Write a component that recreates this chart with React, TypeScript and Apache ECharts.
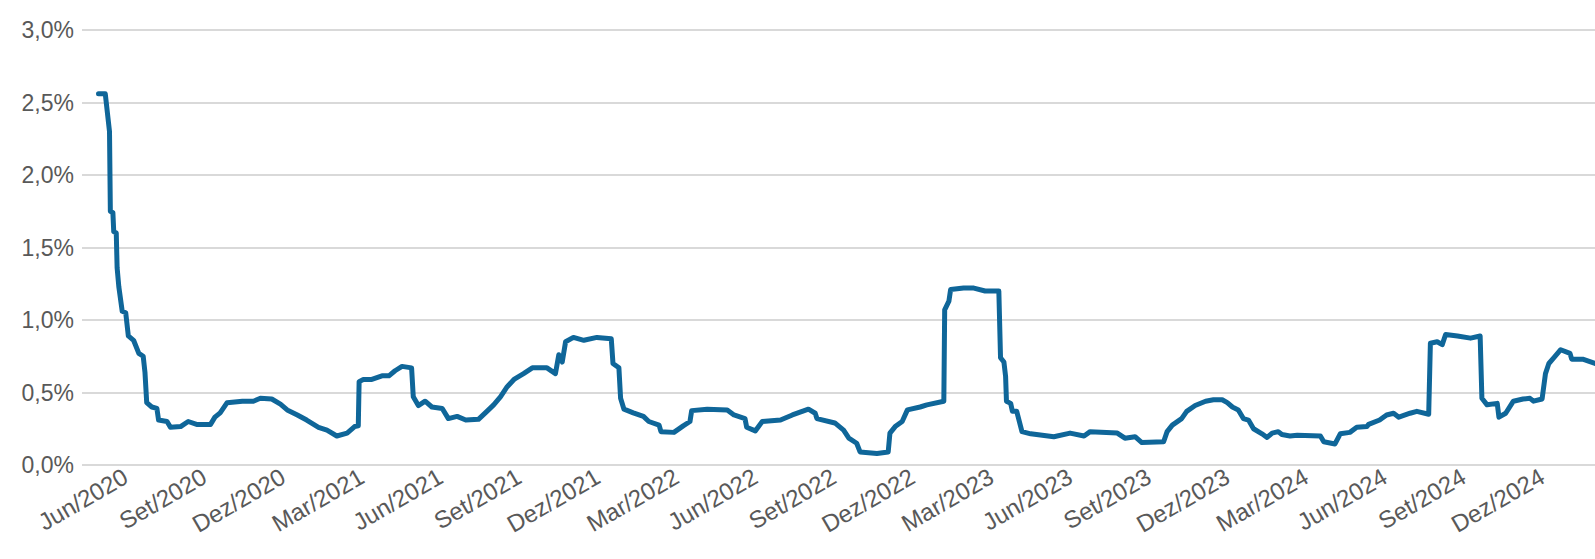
import React, { useEffect, useRef } from "react";
import * as echarts from "echarts";

// Observation dates (YYYY-MM-DD) and rates in %
const dates: string[] = [
  "2020-05-05","2020-05-13","2020-05-18","2020-05-19","2020-05-22","2020-05-23","2020-05-26","2020-05-27","2020-05-29",
  "2020-06-02","2020-06-06","2020-06-09","2020-06-15","2020-06-21","2020-06-26","2020-06-28","2020-06-30",
  "2020-07-06","2020-07-12","2020-07-14","2020-07-24","2020-07-28","2020-08-09","2020-08-18","2020-08-28",
  "2020-09-13","2020-09-18","2020-09-24","2020-10-02","2020-10-20","2020-11-02","2020-11-10","2020-11-23",
  "2020-12-03","2020-12-11","2020-12-23","2021-01-03","2021-01-17","2021-01-27","2021-02-07","2021-02-18","2021-02-26",
  "2021-03-02","2021-03-03","2021-03-08","2021-03-18","2021-03-30","2021-04-07","2021-04-14","2021-04-22",
  "2021-05-03","2021-05-05","2021-05-11","2021-05-19","2021-05-27","2021-06-08","2021-06-15","2021-06-25",
  "2021-07-05","2021-07-20","2021-07-30","2021-08-07","2021-08-15","2021-08-23","2021-08-31","2021-09-11","2021-09-21",
  "2021-10-08","2021-10-18","2021-10-22","2021-10-26","2021-10-30","2021-11-08","2021-11-20","2021-12-05","2021-12-22",
  "2021-12-24","2021-12-31","2022-01-02","2022-01-06","2022-01-17","2022-01-29","2022-02-04","2022-02-15","2022-02-17",
  "2022-03-03","2022-03-14","2022-03-22","2022-03-24","2022-04-11","2022-05-04","2022-05-12","2022-05-25","2022-05-27",
  "2022-06-06","2022-06-14","2022-07-05","2022-07-19","2022-08-07","2022-08-15","2022-08-17","2022-09-07","2022-09-17",
  "2022-09-23","2022-10-02","2022-10-06","2022-10-26","2022-11-08","2022-11-10","2022-11-16","2022-11-24","2022-11-30",
  "2022-12-15","2022-12-23","2023-01-12","2023-01-13","2023-01-18","2023-01-20","2023-02-04","2023-02-15","2023-02-27",
  "2023-03-15","2023-03-17","2023-03-21","2023-03-23","2023-03-24","2023-03-29","2023-03-31","2023-04-05","2023-04-11",
  "2023-04-21","2023-05-18","2023-06-06","2023-06-22","2023-06-29","2023-07-31","2023-08-09","2023-08-21","2023-08-29",
  "2023-09-23","2023-09-27","2023-10-03","2023-10-14","2023-10-20","2023-10-30","2023-11-11","2023-11-20","2023-11-30",
  "2023-12-06","2023-12-12","2023-12-19","2023-12-25","2023-12-31","2024-01-06","2024-01-16","2024-01-22","2024-01-28",
  "2024-02-04","2024-02-08","2024-02-17","2024-02-25","2024-03-23","2024-03-27","2024-04-09","2024-04-15","2024-04-26",
  "2024-05-04","2024-05-16","2024-05-18","2024-05-31","2024-06-08","2024-06-16","2024-06-22","2024-07-05","2024-07-13",
  "2024-07-27","2024-07-29","2024-08-06","2024-08-12","2024-08-16","2024-08-30","2024-09-14","2024-09-25","2024-09-27",
  "2024-10-03","2024-10-15","2024-10-17","2024-10-25","2024-11-03","2024-11-14","2024-11-22","2024-11-26","2024-12-06",
  "2024-12-10","2024-12-14","2024-12-20","2024-12-28","2025-01-08","2025-01-10","2025-01-23","2025-02-06"
];

const rates: number[] = [
  2.56,2.56,2.30,1.75,1.74,1.61,1.60,1.36,1.23,
  1.06,1.05,0.89,0.86,0.77,0.75,0.64,0.43,
  0.40,0.39,0.31,0.30,0.26,0.265,0.30,0.28,
  0.28,0.33,0.36,0.43,0.44,0.44,0.46,0.455,
  0.42,0.38,0.345,0.31,0.26,0.24,0.20,0.22,0.265,
  0.27,0.575,0.59,0.59,0.615,0.615,0.65,0.68,
  0.67,0.47,0.41,0.44,0.40,0.39,0.32,0.335,
  0.31,0.315,0.37,0.415,0.47,0.54,0.59,0.63,0.67,
  0.67,0.63,0.76,0.71,0.85,0.88,0.86,0.88,0.87,
  0.70,0.67,0.46,0.385,0.36,0.335,0.30,0.275,0.23,
  0.225,0.27,0.30,0.375,0.385,0.38,0.345,0.32,0.26,
  0.235,0.30,0.31,0.345,0.385,0.357,0.32,0.29,0.24,
  0.185,0.15,0.09,0.08,0.09,0.22,0.265,0.30,0.38,
  0.40,0.415,0.44,1.07,1.13,1.21,1.22,1.22,1.20,
  1.20,0.74,0.71,0.61,0.44,0.425,0.37,0.37,0.23,
  0.215,0.195,0.22,0.20,0.23,0.22,0.185,0.195,0.155,
  0.16,0.23,0.275,0.32,0.37,0.41,0.44,0.45,0.45,
  0.43,0.40,0.38,0.32,0.31,0.25,0.215,0.19,0.22,
  0.23,0.21,0.20,0.205,0.20,0.16,0.145,0.215,0.225,
  0.26,0.265,0.28,0.31,0.345,0.357,0.33,0.357,0.37,
  0.35,0.84,0.85,0.83,0.90,0.89,0.875,0.89,0.46,
  0.415,0.425,0.33,0.357,0.44,0.455,0.46,0.44,0.455,
  0.63,0.70,0.74,0.795,0.77,0.73,0.73,0.70
];

const monthNames: string[] = ["Jan","Fev","Mar","Abr","Mai","Jun","Jul","Ago","Set","Out","Nov","Dez"];

// axis window (months since 2020-03-01)
const axisStartMonths = 1.5;
const axisEndDate = "2025-02-06";

function monthsSinceMar2020(d: string): number {
  const [y, m, day] = d.split("-").map(Number);
  const dim = new Date(y, m, 0).getDate();
  return (y - 2020) * 12 + (m - 1) - 2 + (day - 1) / dim;
}

function labelFor(v: number): string {
  if (Math.abs(v / 3 - Math.round(v / 3)) > 1e-6) return "";
  const idx = Math.round(v) + 2;
  const year = 2020 + Math.floor(idx / 12);
  return monthNames[idx % 12] + "/" + year;
}

export default function App() {
  const ref = useRef<HTMLDivElement>(null);
  useEffect(() => {
    if (!ref.current) return;
    const chart = echarts.init(ref.current, undefined, { renderer: "svg" });
    const seriesData = dates.map((d, i) => [monthsSinceMar2020(d), rates[i]]);
    const font = "'Liberation Sans', Arial, sans-serif";
    chart.setOption({
      animation: false,
      backgroundColor: "#ffffff",
      grid: { left: 82, right: 0, top: 30, bottom: 94, containLabel: false },
      xAxis: {
        type: "value",
        min: axisStartMonths,
        max: monthsSinceMar2020(axisEndDate),
        interval: 1.5,
        axisLine: { show: false },
        axisTick: { show: false },
        splitLine: { show: false },
        axisLabel: {
          rotate: 30,
          margin: 12,
          color: "#595959",
          fontSize: 24,
          fontFamily: font,
          padding: [0, -5, 0, 0],
          showMinLabel: true,
          showMaxLabel: false,
          formatter: (v: number) => labelFor(v),
        },
      },
      yAxis: {
        type: "value",
        min: 0,
        max: 3,
        interval: 0.5,
        axisLine: { show: false },
        axisTick: { show: false },
        splitLine: { lineStyle: { color: "#d9d9d9", width: 2 } },
        axisLabel: {
          margin: 8,
          color: "#595959",
          fontSize: 23,
          fontFamily: font,
          formatter: (v: number) => v.toFixed(1).replace(".", ",") + "%",
        },
      },
      series: [
        {
          type: "line",
          data: seriesData,
          showSymbol: false,
          symbol: "none",
          lineStyle: { color: "#0f6699", width: 5, cap: "round", join: "round" },
        },
      ],
    });
    return () => chart.dispose();
  }, []);
  return (
    <div
      ref={ref}
      style={{ position: "absolute", left: 0, top: 0, width: 1595, height: 559, background: "#fff" }}
    />
  );
}
